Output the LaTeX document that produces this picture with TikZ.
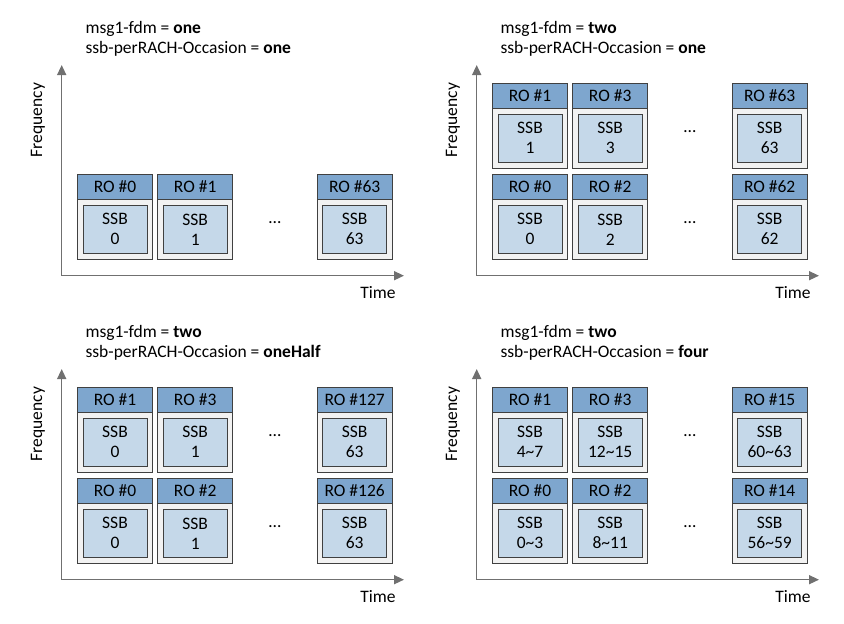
\documentclass[tikz,border=0pt]{standalone}
\usepackage{fontspec}
\setmainfont{Carlito}
\usetikzlibrary{matrix,arrows.meta}
\definecolor{roblue}{RGB}{126,166,206}
\definecolor{ssbblue}{RGB}{197,216,233}
\definecolor{rogray}{RGB}{242,242,242}
\definecolor{edge}{RGB}{64,64,64}
\definecolor{axisgray}{RGB}{112,112,112}
\newcommand{\rofont}{\fontsize{17.5}{20}\selectfont}
\newcommand{\fdm}[2]{msg1-fdm = \textbf{#1}\\ ssb-perRACH-Occasion = \textbf{#2}}
\newcommand{\tl}{\textasciitilde}

\begin{document}
\begin{tikzpicture}[x=1pt,y=-1pt,font=\rofont,
    any/.style={minimum width=75.3pt,inner sep=0pt,outer sep=0pt,%
                draw=edge,line width=0.9pt,anchor=center},
    header/.style={any,minimum height=25pt,fill=roblue},
    body/.style={any,minimum height=60pt,fill=rogray},
    gap/.style={draw=none,fill=none,text depth=13pt},
    ssb/.style={draw=edge,line width=0.9pt,fill=ssbblue,minimum width=64pt,%
                minimum height=48pt,inner sep=0pt,align=center},
    axis/.style={draw=axisgray,line width=1.5pt,%
                 {Triangle[length=10pt,width=9pt]}-{Triangle[length=10pt,width=9pt]}},
    romatrix/.style={matrix of nodes,nodes in empty cells,inner sep=0pt,%
                 column sep=4pt,row sep=-0.9pt,anchor=south west,%
                 every odd row/.style={nodes=header},%
                 every even row/.style={nodes=body},%
                 row 1 column 3/.style={nodes=gap},%
                 row 2 column 3/.style={nodes=gap},%
                 row 3 column 3/.style={nodes=gap},%
                 row 4 column 3/.style={nodes=gap}}
]
\useasboundingbox (0,0) rectangle (844,624);

% msg1-fdm = one, one SSB per RO
\node[anchor=west,align=left] (tA) at (82,38.5) {\fdm{one}{one}};
\coordinate (yA) at (61.7,65);
\coordinate (xA) at (404,275.7);
\draw[axis] (yA) |- (xA);
\node[rotate=90] (fA) at (38,120) {Frequency};
\node (sA) at (378,293) {Time};
\matrix (A) [romatrix] at (76.7,260)
{
RO \#0 & RO \#1 &        & RO \#63 \\
       &        & \ldots &         \\
};
\node[ssb] (A0) at (A-2-1) {SSB\\0};
\node[ssb] (A1) at (A-2-2) {SSB\\1};
\node[ssb] (A63) at (A-2-4) {SSB\\63};

% msg1-fdm = two, one SSB per RO
\begin{scope}[shift={(415,0)}]
\node[anchor=west,align=left] (tB) at (82,38.5) {\fdm{two}{one}};
\coordinate (yB) at (61.7,65);
\coordinate (xB) at (404,275.7);
\draw[axis] (yB) |- (xB);
\node[rotate=90] (fB) at (38,120) {Frequency};
\node (sB) at (378,293) {Time};
\matrix (B) [romatrix] at (76.7,260)
{
RO \#1 & RO \#3 &        & RO \#63 \\
       &        & \ldots &         \\[6.2pt]
RO \#0 & RO \#2 &        & RO \#62 \\
       &        & \ldots &         \\
};
\node[ssb] (B1) at (B-2-1) {SSB\\1};
\node[ssb] (B3) at (B-2-2) {SSB\\3};
\node[ssb] (B63) at (B-2-4) {SSB\\63};
\node[ssb] (B0) at (B-4-1) {SSB\\0};
\node[ssb] (B2) at (B-4-2) {SSB\\2};
\node[ssb] (B62) at (B-4-4) {SSB\\62};
\end{scope}

% msg1-fdm = two, one SSB per two ROs
\begin{scope}[shift={(0,304)}]
\node[anchor=west,align=left] (tC) at (82,38.5) {\fdm{two}{oneHalf}};
\coordinate (yC) at (61.7,65);
\coordinate (xC) at (404,275.7);
\draw[axis] (yC) |- (xC);
\node[rotate=90] (fC) at (38,120) {Frequency};
\node (sC) at (378,293) {Time};
\matrix (C) [romatrix] at (76.7,260)
{
RO \#1 & RO \#3 &        & RO \#127 \\
       &        & \ldots &          \\[6.2pt]
RO \#0 & RO \#2 &        & RO \#126 \\
       &        & \ldots &          \\
};
\node[ssb] (C1) at (C-2-1) {SSB\\0};
\node[ssb] (C3) at (C-2-2) {SSB\\1};
\node[ssb] (C127) at (C-2-4) {SSB\\63};
\node[ssb] (C0) at (C-4-1) {SSB\\0};
\node[ssb] (C2) at (C-4-2) {SSB\\1};
\node[ssb] (C126) at (C-4-4) {SSB\\63};
\end{scope}

% msg1-fdm = two, four SSBs per RO
\begin{scope}[shift={(415,304)}]
\node[anchor=west,align=left] (tD) at (82,38.5) {\fdm{two}{four}};
\coordinate (yD) at (61.7,65);
\coordinate (xD) at (404,275.7);
\draw[axis] (yD) |- (xD);
\node[rotate=90] (fD) at (38,120) {Frequency};
\node (sD) at (378,293) {Time};
\matrix (D) [romatrix] at (76.7,260)
{
RO \#1 & RO \#3 &        & RO \#15 \\
       &        & \ldots &         \\[6.2pt]
RO \#0 & RO \#2 &        & RO \#14 \\
       &        & \ldots &         \\
};
\node[ssb] (D1) at (D-2-1) {SSB\\4\tl7};
\node[ssb] (D3) at (D-2-2) {SSB\\12\tl15};
\node[ssb] (D15) at (D-2-4) {SSB\\60\tl63};
\node[ssb] (D0) at (D-4-1) {SSB\\0\tl3};
\node[ssb] (D2) at (D-4-2) {SSB\\8\tl11};
\node[ssb] (D14) at (D-4-4) {SSB\\56\tl59};
\end{scope}

\end{tikzpicture}
\end{document}
